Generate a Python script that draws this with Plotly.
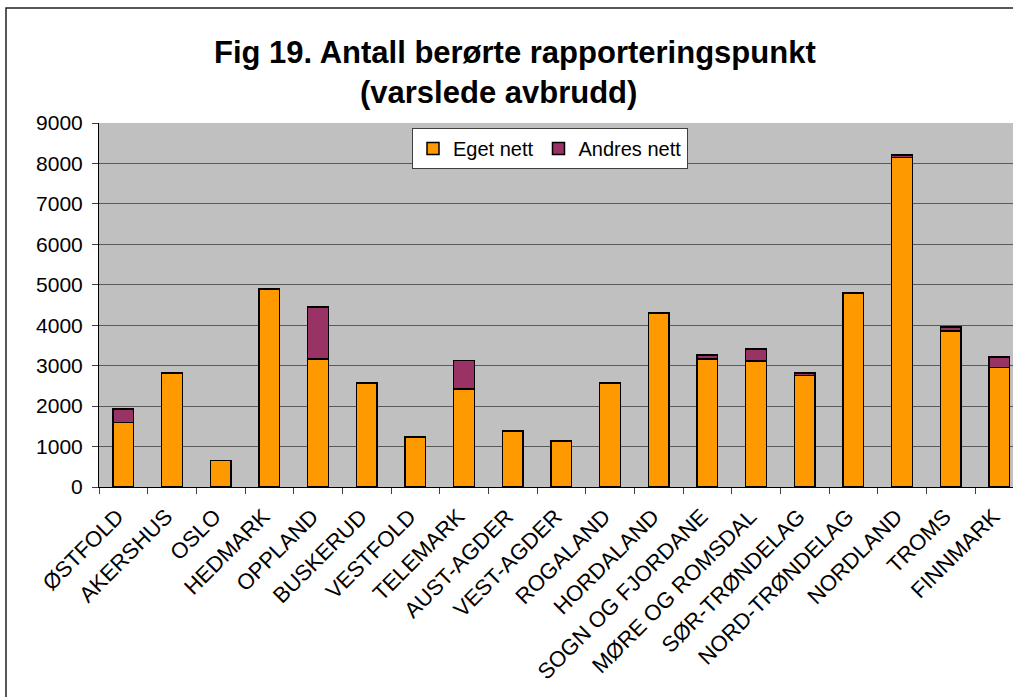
import plotly.graph_objects as go

categories = ["ØSTFOLD", "AKERSHUS", "OSLO", "HEDMARK", "OPPLAND", "BUSKERUD",
              "VESTFOLD", "TELEMARK", "AUST-AGDER", "VEST-AGDER", "ROGALAND",
              "HORDALAND", "SOGN OG FJORDANE", "MØRE OG ROMSDAL", "SØR-TRØNDELAG",
              "NORD-TRØNDELAG", "NORDLAND", "TROMS", "FINNMARK"]
eget_nett = [1590, 2820, 650, 4900, 3170, 2570, 1240, 2425, 1390, 1140, 2570,
             4300, 3160, 3110, 2760, 4800, 8150, 3860, 2960]
andres_nett = [340, 0, 0, 0, 1280, 0, 0, 700, 0, 0, 0,
               0, 100, 300, 60, 0, 60, 100, 250]
y_ticks = [0, 1000, 2000, 3000, 4000, 5000, 6000, 7000, 8000, 9000]

FONT = "Arial, Liberation Sans, sans-serif"
W, H = 1013, 697
L, R, T, B = 99, 0, 123, 210
pw, ph = W - L - R, H - T - B

def px(x):
    return (x - L) / pw

def py(y):
    return 1 + (T - y) / ph

fig = go.Figure()
fig.add_trace(go.Bar(x=categories, y=eget_nett, name="Eget nett",
                     marker=dict(color="#FF9900", line=dict(color="black", width=1.5)),
                     width=0.425))
fig.add_trace(go.Bar(x=categories, y=andres_nett, name="Andres nett",
                     marker=dict(color="#993366", line=dict(color="black", width=1.5)),
                     width=0.425))

fig.update_layout(
    width=W, height=H,
    margin=dict(l=L, r=R, t=T, b=B, pad=0),
    barmode="stack",
    paper_bgcolor="white",
    plot_bgcolor="#C0C0C0",
    font=dict(family=FONT, size=21, color="black"),
    showlegend=True,
    legend=dict(orientation="h", x=px(412), y=py(128), xanchor="left", yanchor="top",
                bgcolor="white", bordercolor="#404040", borderwidth=1,
                font=dict(family=FONT, size=20, color="black"),
                traceorder="normal"),
    xaxis=dict(range=[-0.5, 18.28], tickangle=-45, ticks="outside", ticklen=6,
               tickson="boundaries", tickcolor="#404040",
               showline=True, linecolor="black", linewidth=1,
               ticklabelshift=-6, ticklabelstandoff=7,
               showgrid=False, tickfont=dict(family=FONT, size=22, color="black")),
    yaxis=dict(range=[0, 9000], tickvals=y_ticks, ticks="outside", ticklen=6,
               tickcolor="#404040", showline=True, linecolor="black", linewidth=1,
               ticklabelstandoff=5,
               showgrid=True, gridcolor="#5a5a5a", gridwidth=1, zeroline=False,
               tickfont=dict(family=FONT, size=21, color="black")),
    annotations=[
        dict(text="<b>Fig 19. Antall berørte rapporteringspunkt</b>", xref="paper", yref="paper",
             x=px(515), y=py(52), xanchor="center", yanchor="middle", showarrow=False,
             font=dict(family=FONT, size=31, color="black")),
        dict(text="<b>(varslede avbrudd)</b>", xref="paper", yref="paper",
             x=px(498), y=py(92), xanchor="center", yanchor="middle", showarrow=False,
             font=dict(family=FONT, size=31, color="black")),
    ],
    shapes=[
        dict(type="rect", xref="paper", yref="paper",
             x0=px(6), x1=px(1030), y0=py(720), y1=py(8),
             line=dict(color="#222222", width=1.5), fillcolor="rgba(0,0,0,0)", layer="above"),
    ],
)

fig.write_html("out.html", config={"displayModeBar": False},
               post_script="document.body.style.margin='0px';document.body.style.overflow='hidden';")
